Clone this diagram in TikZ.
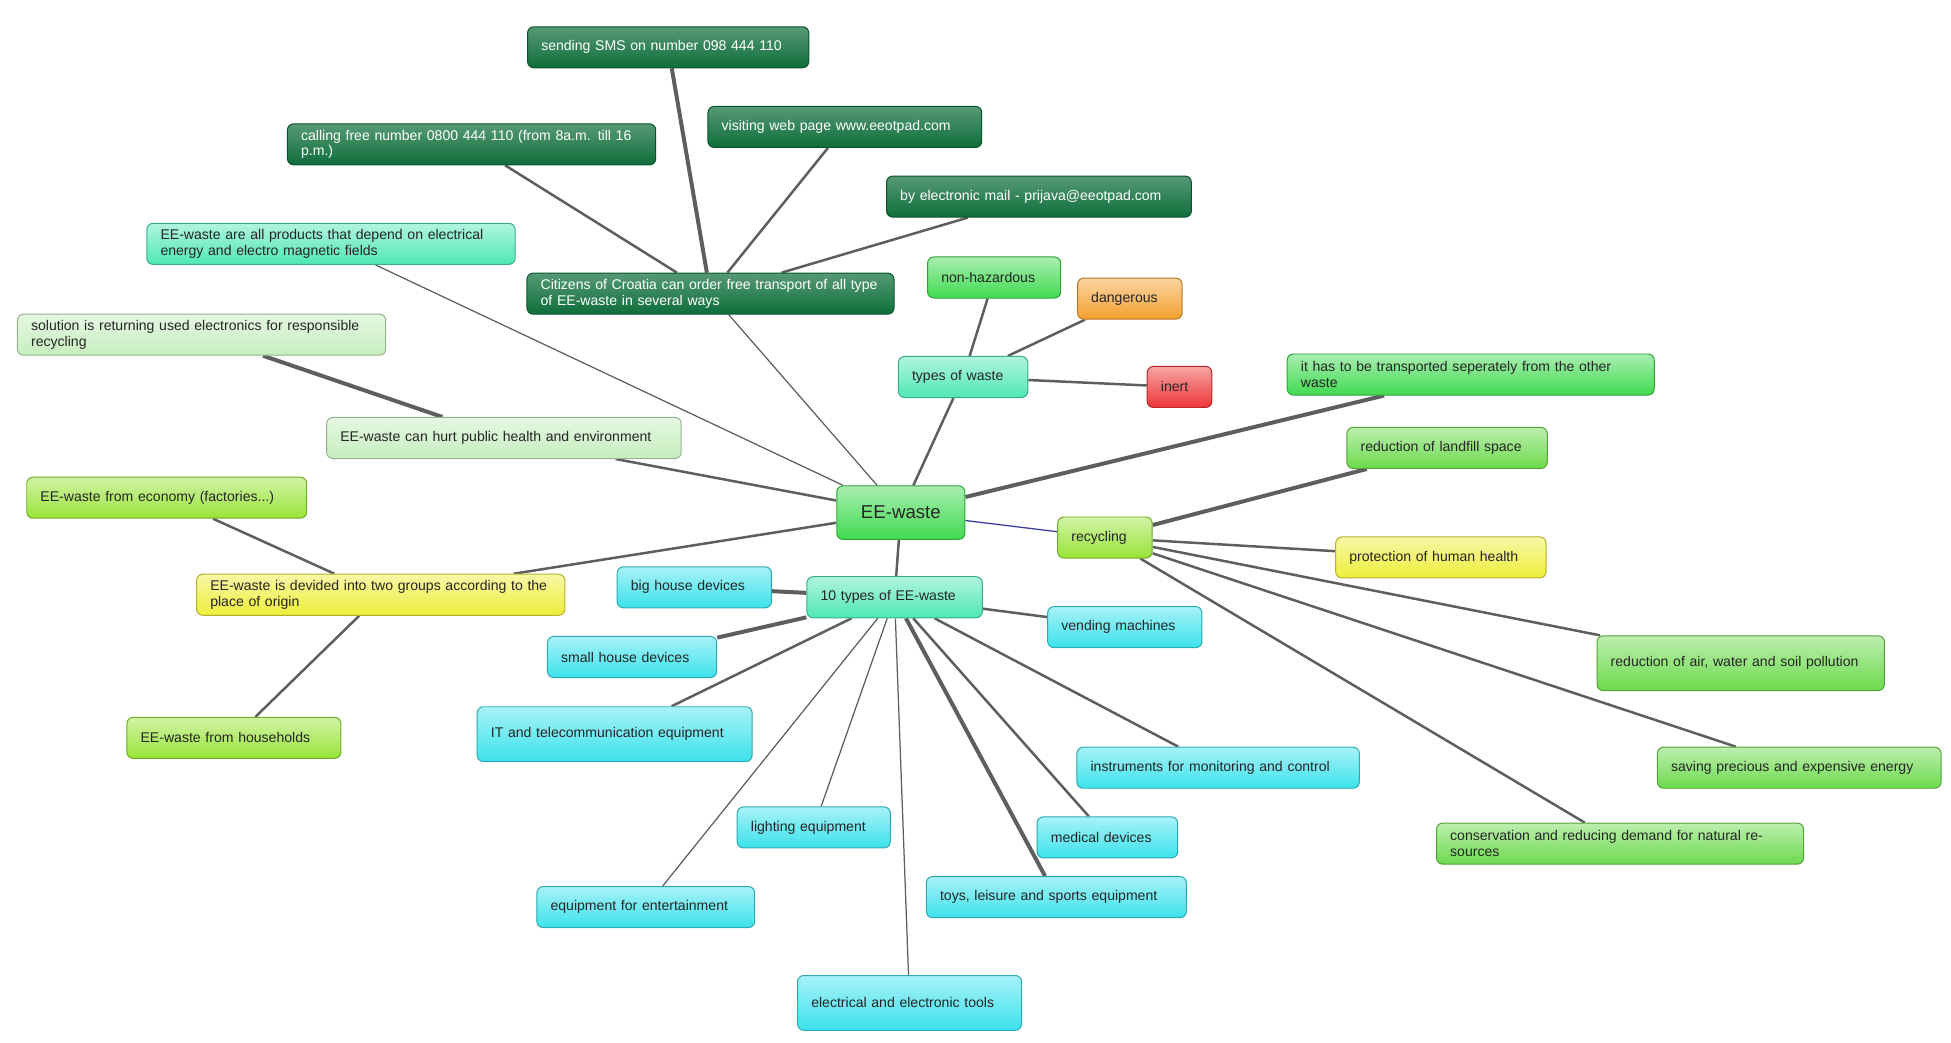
\documentclass[tikz,border=0pt]{standalone}
\usepackage{fontspec}
\setmainfont{Liberation Sans}
\usetikzlibrary{backgrounds}
\definecolor{cdg}{HTML}{0E6E3A}
\definecolor{caq}{HTML}{4FE8B4}
\definecolor{cpg}{HTML}{C6EEBE}
\definecolor{cyg}{HTML}{98E438}
\definecolor{cye}{HTML}{EEEE3A}
\definecolor{cgr}{HTML}{40DA50}
\definecolor{cor}{HTML}{F4A030}
\definecolor{cre}{HTML}{EE3535}
\definecolor{ccy}{HTML}{3CE2EC}
\definecolor{clg}{HTML}{6CDA4C}
\definecolor{ln}{HTML}{5E5E5E}
\tikzset{
 bx/.style n args={2}{draw=#1!75!black, line width=0.8pt, rounded corners=5pt,
   top color=#1!45!white, bottom color=#1, text width=#2pt-22pt, inner xsep=11pt,
   inner ysep=4pt, minimum height=33pt, align=left, font=\fontsize{11.3}{12.5}\selectfont, text=black!85},
 wt/.style={text=white, top color=cdg!70!white},
 e1/.style={draw=ln, line width=1pt},
 e2/.style={draw=ln, line width=2pt},
 e3/.style={draw=ln, line width=3.2pt},
}
\begin{document}
\begin{tikzpicture}[x=1pt,y=-1pt]
\useasboundingbox (0,0) rectangle (1568,838);
\node[bx={cdg}{226},wt] (sms) at (537,38) {sending SMS on number 098 444 110};
\node[bx={cdg}{296},wt] (call) at (379,116) {calling free number 0800 444 110 (from 8a.m. till 16 p.m.)};
\node[bx={cdg}{220},wt] (web) at (679,102) {visiting web page www.eeotpad.com};
\node[bx={cdg}{245},wt] (mail) at (835,158) {by electronic mail - prijava@eeotpad.com};
\node[bx={cdg}{295},wt] (cit) at (571,236) {Citizens of Croatia can order free transport of all type of EE-waste in several ways};
\node[bx={caq}{296}] (def) at (266,196) {EE-waste are all products that depend on electrical energy and electro magnetic fields};
\node[bx={cpg}{296}] (sol) at (162,269) {solution is returning used electronics for responsible recycling};
\node[bx={cpg}{285}] (hurt) at (405,352) {EE-waste can hurt public health and environment};
\node[bx={cyg}{225}] (eco) at (134,400) {EE-waste from economy (factories...)};
\node[bx={cye}{296}] (dev) at (306,478) {EE-waste is devided into two groups according to the place of origin};
\node[bx={cyg}{172}] (hh) at (188,593) {EE-waste from households};
\node[bx={cgr}{103},minimum height=43pt,font=\fontsize{15}{17}\selectfont,align=center] (ee) at (724,412) {EE-waste};
\node[bx={cgr}{107}] (nh) at (799,223) {non-hazardous};
\node[bx={cor}{84}] (dan) at (908,240) {dangerous};
\node[bx={caq}{104}] (tw) at (774,303) {types of waste};
\node[bx={cre}{52}] (in) at (948,311) {inert};
\node[bx={cgr}{295}] (tr) at (1182,301) {it has to be transported seperately from the other waste};
\node[bx={clg}{161}] (lf) at (1163,360) {reduction of landfill space};
\node[bx={cyg}{76}] (rec) at (888,432) {recycling};
\node[bx={cye}{169}] (pro) at (1158,448) {protection of human health};
\node[bx={clg}{231},minimum height=44pt] (air) at (1399,533) {reduction of air, water and soil pollution\\[8pt]};
\node[bx={clg}{228}] (sav) at (1446,617) {saving precious and expensive energy};
\node[bx={clg}{295}] (con) at (1302,678) {conservation and reducing demand for natural resources};
\node[bx={caq}{141}] (ten) at (719,480) {10 types of EE-waste};
\node[bx={ccy}{124}] (big) at (558,472) {big house devices};
\node[bx={ccy}{124}] (ven) at (904,504) {vending machines};
\node[bx={ccy}{136}] (sm) at (508,528) {small house devices};
\node[bx={ccy}{221},minimum height=44pt] (it) at (494,590) {IT and telecommunication equipment\\[8pt]};
\node[bx={ccy}{227}] (ins) at (979,617) {instruments for monitoring and control};
\node[bx={ccy}{123}] (li) at (654,665) {lighting equipment};
\node[bx={ccy}{113}] (med) at (890,673) {medical devices};
\node[bx={ccy}{209}] (toy) at (849,721) {toys, leisure and sports equipment};
\node[bx={ccy}{175}] (ent) at (519,729) {equipment for entertainment};
\node[bx={ccy}{180},minimum height=44pt] (tool) at (731,806) {electrical and electronic tools\\[8pt]};
\begin{pgfonlayer}{background}
\draw[e3] (cit) -- (sms);
\draw[e2] (cit) -- (call);
\draw[e2] (cit) -- (web);
\draw[e2] (cit) -- (mail);
\draw[e1] (cit) -- (ee);
\draw[e1] (def) -- (ee);
\draw[e3] (hurt) -- (sol);
\draw[e2] (hurt) -- (ee);
\draw[e2] (dev) -- (ee);
\draw[e2] (dev) -- (eco);
\draw[e2] (dev) -- (hh);
\draw[e2] (tw) -- (ee);
\draw[e2] (tw) -- (nh);
\draw[e2] (tw) -- (dan);
\draw[e2] (tw) -- (in);
\draw[e3] (tr) -- (ee);
\draw[draw=ln!60!blue, line width=1pt] (ee) -- (rec);
\draw[e3] (rec) -- (lf);
\draw[e2] (rec) -- (pro);
\draw[e2] (rec) -- (air);
\draw[e2] (rec) -- (sav);
\draw[e2] (rec) -- (con);
\draw[e2] (ten) -- (ee);
\draw[e3] (ten) -- (big);
\draw[e2] (ten) -- (ven);
\draw[e3] (ten) -- (sm);
\draw[e2] (ten) -- (it);
\draw[e2] (ten) -- (ins);
\draw[e1] (ten) -- (li);
\draw[e2] (ten) -- (med);
\draw[e3] (ten) -- (toy);
\draw[e1] (ten) -- (ent);
\draw[e1] (ten) -- (tool);
\end{pgfonlayer}
\end{tikzpicture}
\end{document}
